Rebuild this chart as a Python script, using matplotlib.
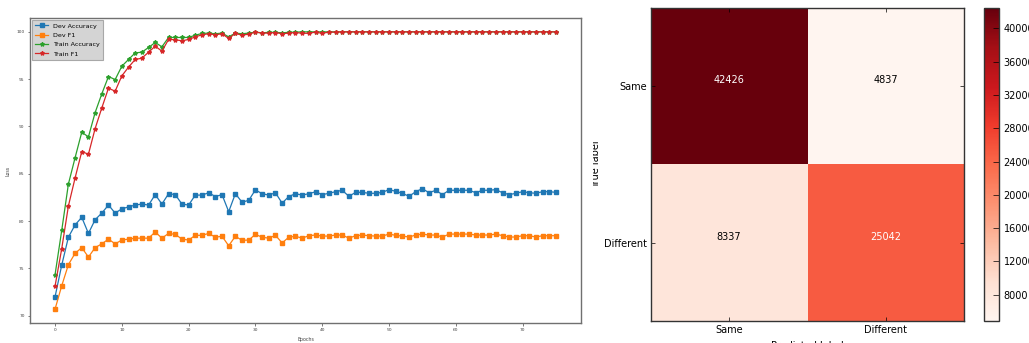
import matplotlib
matplotlib.use("Agg")
import matplotlib.pyplot as plt
import numpy as np
from matplotlib.transforms import Bbox, TransformedBbox

epochs = list(range(76))

dev_acc = [72.0, 75.35, 78.3, 79.6, 80.4, 78.7, 80.15, 80.85, 81.7, 80.85,
           81.3, 81.5, 81.7, 81.8, 81.7, 82.8, 81.8, 82.9, 82.8, 81.8,
           81.7, 82.75, 82.75, 83.0, 82.6, 82.8, 81.0, 82.9, 82.0, 82.2,
           83.3, 82.9, 82.75, 83.0, 81.9, 82.6, 82.9, 82.75, 82.9, 83.1,
           82.8, 82.94, 83.11, 83.26, 82.62, 83.04, 83.04, 82.94, 82.94, 83.04,
           83.33, 83.15, 82.94, 82.62, 83.11, 83.43, 83.0, 83.26, 82.8, 83.26,
           83.26, 83.26, 83.26, 83.0, 83.26, 83.26, 83.33, 83.0, 82.8, 82.94,
           83.11, 83.0, 82.94, 83.11, 83.11, 83.04]

dev_f1 = [70.7, 73.17, 75.4, 76.6, 77.2, 76.2, 77.2, 77.6, 78.1, 77.6,
          78.0, 78.1, 78.2, 78.2, 78.2, 78.85, 78.2, 78.7, 78.6, 78.1,
          78.0, 78.5, 78.5, 78.7, 78.3, 78.4, 77.4, 78.4, 77.97, 78.0,
          78.6, 78.3, 78.2, 78.5, 77.7, 78.3, 78.4, 78.2, 78.46, 78.53,
          78.42, 78.42, 78.53, 78.53, 78.2, 78.46, 78.53, 78.46, 78.42, 78.42,
          78.63, 78.5, 78.42, 78.32, 78.53, 78.63, 78.53, 78.53, 78.32, 78.63,
          78.63, 78.63, 78.63, 78.53, 78.53, 78.53, 78.63, 78.46, 78.32, 78.32,
          78.46, 78.46, 78.32, 78.46, 78.46, 78.46]

train_acc = [74.34, 79.02, 83.92, 86.7, 89.4, 88.9, 91.47, 93.45, 95.28, 94.96,
             96.37, 97.08, 97.78, 97.85, 98.35, 98.88, 98.42, 99.41, 99.41, 99.41,
             99.41, 99.65, 99.83, 99.87, 99.8, 99.87, 99.47, 99.87, 99.8, 99.87,
             99.97, 99.9, 99.95, 99.95, 99.9, 99.95, 99.97, 100.0, 100.0, 100.0,
             100.0, 100.0, 100.0, 100.0, 100.0, 100.0, 100.0, 100.0, 100.0, 100.0,
             100.0, 100.0, 100.0, 100.0, 100.0, 100.0, 100.0, 100.0, 100.0, 100.0,
             100.0, 100.0, 100.0, 100.0, 100.0, 100.0, 100.0, 100.0, 100.0, 100.0,
             100.0, 100.0, 100.0, 100.0, 100.0, 100.0]

train_f1 = [73.13, 77.09, 81.6, 84.56, 87.35, 87.07, 89.78, 91.96, 94.05, 93.73,
            95.35, 96.27, 97.08, 97.22, 97.85, 98.49, 97.96, 99.2, 99.17, 99.05,
            99.2, 99.47, 99.69, 99.8, 99.69, 99.8, 99.3, 99.83, 99.65, 99.76,
            99.97, 99.87, 99.87, 99.93, 99.8, 99.87, 99.93, 99.85, 99.85, 99.97,
            99.85, 99.97, 99.97, 100.0, 100.0, 100.0, 100.0, 100.0, 100.0, 100.0,
            100.0, 100.0, 100.0, 100.0, 100.0, 100.0, 100.0, 100.0, 100.0, 100.0,
            100.0, 100.0, 100.0, 100.0, 100.0, 100.0, 100.0, 100.0, 100.0, 100.0,
            100.0, 100.0, 100.0, 100.0, 100.0, 100.0]

classes = ["Same", "Different"]
conf = [[42426, 4837],
        [8337, 25042]]
cbar_ticks = [8000, 12000, 16000, 20000, 24000, 28000, 32000, 36000, 40000]

W, H = 1029, 343
fig = plt.figure(figsize=(W / 100, H / 100), dpi=100)

def fbox(x0, y0, x1, y1):
    return [x0 / W, 1 - y1 / H, (x1 - x0) / W, (y1 - y0) / H]

# ---------------- left: training curves ----------------
ax = fig.add_axes(fbox(30, 18, 581, 323))
ax.plot(epochs, dev_acc, color="#1f77b4", marker="s", ms=3, lw=0.9, label="Dev Accuracy")
ax.plot(epochs, dev_f1, color="#ff7f0e", marker="s", ms=3, lw=0.9, label="Dev F1")
ax.plot(epochs, train_acc, color="#2ca02c", marker="*", ms=3, lw=0.9, label="Train Accuracy")
ax.plot(epochs, train_f1, color="#d62728", marker="*", ms=3, lw=0.9, label="Train F1")
ax.set_xticks([0, 10, 20, 30, 40, 50, 60, 70])
ax.set_yticks([70, 75, 80, 85, 90, 95, 100])
ax.tick_params(labelsize=3.2, length=1.8, width=0.5, colors="#444444", pad=2)
for s in ax.spines.values():
    s.set_color("#707070")
    s.set_linewidth(1.0)
ax.set_xlabel("Epochs", fontsize=3.4, color="#444444", labelpad=1)
ax.set_ylabel("Loss", fontsize=3.4, color="#444444", labelpad=4)
ax.xaxis.set_label_coords(0.5, -0.045)
leg = ax.legend(loc="upper left", fontsize=4.6, frameon=True, fancybox=False,
                borderpad=0.5, labelspacing=0.6, handlelength=2.0, borderaxespad=0.3)
leg.get_frame().set_facecolor("#d4d4d4")
leg.get_frame().set_edgecolor("#a8a8a8")
leg.get_frame().set_alpha(1.0)
leg.get_frame().set_linewidth(0.8)

# ---------------- right: confusion matrix ----------------
cm = np.array(conf)
axc = fig.add_axes(fbox(650.7, 8.3, 964, 321))
im = axc.imshow(cm, cmap="Reds", interpolation="nearest", aspect="auto")
axc.set_xticks(range(len(classes)))
axc.set_yticks(range(len(classes)))
axc.set_xticklabels(classes, fontsize=7)
axc.set_yticklabels(classes, fontsize=7)
axc.tick_params(direction="in", length=3, width=0.5, top=True, right=True, pad=3)
thresh = cm.max() / 2.0
for i in range(cm.shape[0]):
    for j in range(cm.shape[1]):
        axc.text(j, i - 0.04, f"{cm[i, j]}", ha="center", va="center", fontsize=7,
                 color="white" if cm[i, j] > thresh else "black")
for s in axc.spines.values():
    s.set_color("#333333")
    s.set_linewidth(1.0)
axc.set_xlabel("Predicted label", fontsize=7, labelpad=4)

cax = fig.add_axes(fbox(984, 8.3, 999.3, 321))
cb = fig.colorbar(im, cax=cax, ticks=cbar_ticks)
cb.ax.tick_params(labelsize=7, direction="in", length=4, width=0.5, pad=3)
cb.outline.set_linewidth(1.0)
cb.outline.set_edgecolor("#333333")

t = fig.text(596 / W, 1 - 164.6 / H, "True label", rotation=90, fontsize=7,
             ha="center", va="center")
t.set_clip_box(TransformedBbox(Bbox([[593.0 / W, 0], [1, 1]]), fig.transFigure))
t.set_clip_on(True)

fig.savefig("out.png", dpi=100)
